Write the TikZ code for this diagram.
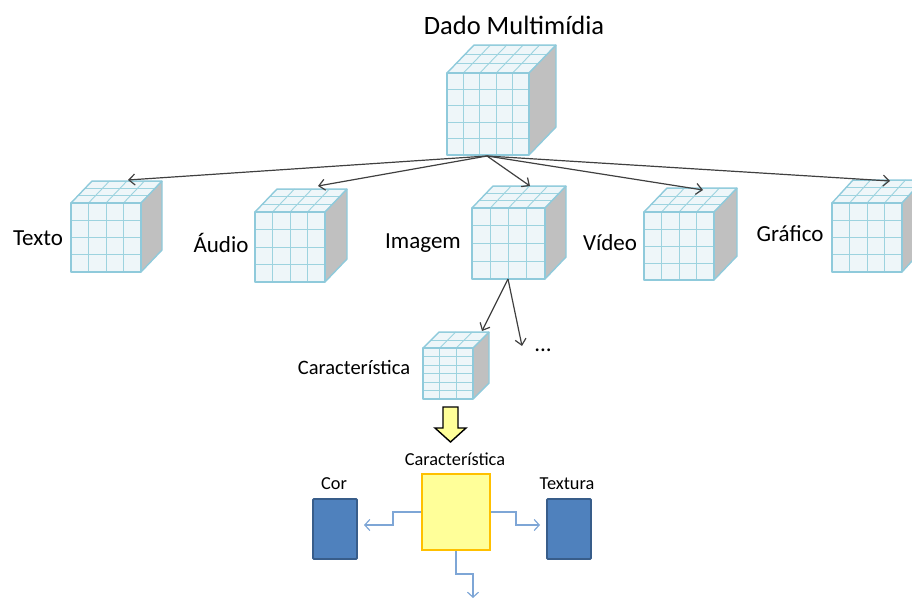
\documentclass[tikz,border=0pt]{standalone}
\usepackage{fontspec}
\setmainfont{Carlito}
\usetikzlibrary{arrows.meta}
\definecolor{cface}{HTML}{EEF6F9}
\definecolor{cgrid}{HTML}{9DD3DF}
\definecolor{cedge}{HTML}{8FCADB}
\definecolor{cside}{HTML}{C0C0C0}
\definecolor{arrowgray}{HTML}{404040}
\definecolor{lightyel}{HTML}{FFFF99}
\definecolor{yelbord}{HTML}{FFC000}
\definecolor{bluefill}{HTML}{4F81BD}
\definecolor{blueedge}{HTML}{385D8A}
\definecolor{connblue}{HTML}{7EA6D6}
% #1 x  #2 y  #3 w  #4 h  #5 dx  #6 dy  #7 cols  #8 rows  #9 toprows
\newcommand\mmcube[9]{%
  \fill[cside] (#1+#3,#2) -- ++(#5,-#6) -- ++(0,#4) -- (#1+#3,#2+#4) -- cycle;
  \fill[cface] (#1,#2) -- ++(#5,-#6) -- ++(#3,0) -- (#1+#3,#2) -- cycle;
  \fill[cface] (#1,#2) rectangle ++(#3,#4);
  \foreach \i in {1,...,#7}{\draw[cgrid,line width=0.9pt] ({#1+\i*#3/#7},#2) -- ++(0,#4);
    \draw[cgrid,line width=0.9pt] ({#1+\i*#3/#7},#2) -- ++(#5,-#6);}
  \foreach \j in {1,...,#8}{\draw[cgrid,line width=0.9pt] (#1,{#2+\j*#4/#8}) -- ++(#3,0);}
  \foreach \k in {1,...,#9}{\draw[cgrid,line width=0.9pt] ({#1+\k*#5/#9},{#2-\k*#6/#9}) -- ++(#3,0);}
  \draw[cedge,line width=1.4pt,line join=round] (#1,#2) rectangle ++(#3,#4);
  \draw[cedge,line width=1.4pt,line join=round] (#1,#2) -- ++(#5,-#6) -- ++(#3,0) -- ++(0,#4) -- (#1+#3,#2+#4);
  \draw[cedge,line width=1.4pt] (#1+#3,#2) -- ++(#5,-#6);
}
\tikzset{
  cat/.style={font=\fontsize{23}{26}\selectfont, inner sep=0pt},
  small/.style={font=\fontsize{20.5}{23}\selectfont, inner sep=0pt},
  tiny/.style={font=\fontsize{18.3}{21}\selectfont, inner sep=0pt},
  link/.style={arrowgray, line width=1.2pt, -{Straight Barb[length=6pt,width=11pt]}},
  flow/.style={connblue, line width=1.2pt, -{Straight Barb[length=5pt,width=11pt]}},
  featbox/.style={draw=yelbord, fill=lightyel, line width=1.6pt, minimum width=68pt, minimum height=76pt, inner sep=0pt},
  bluebox/.style={draw=blueedge, fill=bluefill, line width=1.8pt, rounded corners=1pt, minimum width=44pt, minimum height=60pt, inner sep=0pt},
}
\begin{document}
\begin{tikzpicture}[x=1pt,y=-1pt]
\useasboundingbox (0,0) rectangle (912,599);
\clip (0,0) rectangle (912,599);
% cubes
\mmcube{447}{73}{82}{82}{27}{28}{5}{5}{3}
\mmcube{71}{203}{70}{69}{21}{22}{4}{4}{3}
\mmcube{255}{212}{70}{70}{22}{23}{4}{4}{3}
\mmcube{472}{208}{73}{71}{21}{22}{4}{4}{3}
\mmcube{644}{212}{70}{68}{23}{24}{4}{4}{3}
\mmcube{832}{203}{70}{69}{21}{23}{4}{4}{3}
\mmcube{423}{348}{50}{51}{16}{16}{3}{6}{2}
% anchor points
\coordinate (mainb) at (487,156);
\coordinate (textot) at (128,180);
\coordinate (audiot) at (318,186);
\coordinate (imagt) at (530,186);
\coordinate (videot) at (703,190);
\coordinate (graft) at (890,181);
\coordinate (imagb) at (508,279);
\coordinate (chart) at (482,331);
\coordinate (dotsend) at (522,346);
% labels
\node[font=\fontsize{26.5}{30}\selectfont, inner sep=0pt] (title) at (514,25) {Dado Multimídia};
\node[cat] (ltexto) at (38,238) {Texto};
\node[cat] (laudio) at (221,243) {Áudio};
\node[cat] (limagem) at (423,243) {Imagem};
\node[cat] (lvideo) at (610,243) {Vídeo};
\node[cat] (lgraf) at (790,234) {Gráfico};
\node[small] (lchar) at (354,367) {Característica};
\node[cat, anchor=base] (ldots) at (543,351) {...};
% arrows
\draw[link] (mainb) -- (textot);
\draw[link] (mainb) -- (audiot);
\draw[link] (mainb) -- (imagt);
\draw[link] (mainb) -- (videot);
\draw[link] (mainb) -- (graft);
\draw[link] (imagb) -- (chart);
\draw[link] (imagb) -- (dotsend);
% block arrow
\draw[black, fill=lightyel, line width=1.4pt, line join=miter]
  (443,407) -- (458,407) -- (458,428) -- (466,428) -- (450.5,442) -- (435,428) -- (443,428) -- cycle;
% bottom part
\node[featbox] (feat) at (456,512) {};
\node[tiny, anchor=south] (lfeat) at (455,466) {Característica};
\node[bluebox] (cor) at (335,529) {};
\node[bluebox] (textura) at (569,529) {};
\node[tiny, anchor=south] (lcor) at (334,490) {Cor};
\node[tiny, anchor=south] (ltext) at (567,490) {Textura};
\coordinate (outl) at (364,525);
\coordinate (outr) at (540,525);
\coordinate (outb) at (473,598);
\draw[flow] (feat.west |- 0,512) -- (393,512) -- (393,525) -- (outl);
\draw[flow] (feat.east |- 0,512) -- (516,512) -- (516,525) -- (outr);
\draw[flow] (feat.south) -- (456,574) -- (473,574) -- (outb);
\end{tikzpicture}
\end{document}
